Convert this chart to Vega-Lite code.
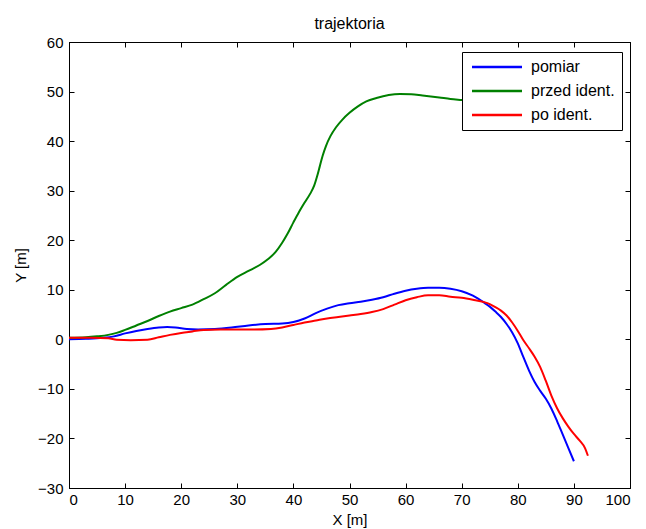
{
  "$schema": "https://vega.github.io/schema/vega-lite/v6.json",
  "width": 561,
  "height": 446,
  "autosize": {"type": "none"},
  "padding": {"left": 69, "top": 42, "right": 16, "bottom": 41},
  "background": "white",
  "title": {"text": "trajektoria", "fontSize": 16, "fontWeight": "normal", "font": "Liberation Sans", "color": "black", "offset": 3},
  "config": {
    "view": {"stroke": "black", "strokeWidth": 1},
    "font": "Liberation Sans",
    "axis": {
      "domainColor": "black", "tickColor": "black", "labelColor": "black", "titleColor": "black",
      "labelFont": "Liberation Sans", "titleFont": "Liberation Sans",
      "labelFontSize": 15, "titleFontSize": 15, "titleFontWeight": "normal",
      "grid": false, "tickSize": -5, "labelPadding": 9
    }
  },
  "datasets": {
    "d": [
      {"s": "pomiar", "i": 0, "x": 0, "y": 0},
      {"s": "pomiar", "i": 1, "x": 3, "y": 0.1},
      {"s": "pomiar", "i": 2, "x": 6, "y": 0.3},
      {"s": "pomiar", "i": 3, "x": 8, "y": 0.6},
      {"s": "pomiar", "i": 4, "x": 10, "y": 1.2},
      {"s": "pomiar", "i": 5, "x": 12, "y": 1.7},
      {"s": "pomiar", "i": 6, "x": 14, "y": 2.1},
      {"s": "pomiar", "i": 7, "x": 16, "y": 2.4},
      {"s": "pomiar", "i": 8, "x": 17.5, "y": 2.5},
      {"s": "pomiar", "i": 9, "x": 19, "y": 2.4},
      {"s": "pomiar", "i": 10, "x": 21, "y": 2.1},
      {"s": "pomiar", "i": 11, "x": 23, "y": 2.0},
      {"s": "pomiar", "i": 12, "x": 26, "y": 2.1},
      {"s": "pomiar", "i": 13, "x": 29, "y": 2.4},
      {"s": "pomiar", "i": 14, "x": 32, "y": 2.8},
      {"s": "pomiar", "i": 15, "x": 35, "y": 3.1},
      {"s": "pomiar", "i": 16, "x": 38, "y": 3.2},
      {"s": "pomiar", "i": 17, "x": 40, "y": 3.5},
      {"s": "pomiar", "i": 18, "x": 42, "y": 4.2},
      {"s": "pomiar", "i": 19, "x": 44, "y": 5.3},
      {"s": "pomiar", "i": 20, "x": 46, "y": 6.2},
      {"s": "pomiar", "i": 21, "x": 48, "y": 6.9},
      {"s": "pomiar", "i": 22, "x": 50, "y": 7.3},
      {"s": "pomiar", "i": 23, "x": 52, "y": 7.6},
      {"s": "pomiar", "i": 24, "x": 54, "y": 8.0},
      {"s": "pomiar", "i": 25, "x": 56, "y": 8.5},
      {"s": "pomiar", "i": 26, "x": 58, "y": 9.2},
      {"s": "pomiar", "i": 27, "x": 60, "y": 9.8},
      {"s": "pomiar", "i": 28, "x": 62, "y": 10.2},
      {"s": "pomiar", "i": 29, "x": 64, "y": 10.4},
      {"s": "pomiar", "i": 30, "x": 66, "y": 10.4},
      {"s": "pomiar", "i": 31, "x": 68, "y": 10.2},
      {"s": "pomiar", "i": 32, "x": 70, "y": 9.7},
      {"s": "pomiar", "i": 33, "x": 72, "y": 8.8},
      {"s": "pomiar", "i": 34, "x": 74, "y": 7.4},
      {"s": "pomiar", "i": 35, "x": 75, "y": 6.6},
      {"s": "pomiar", "i": 36, "x": 76, "y": 5.6},
      {"s": "pomiar", "i": 37, "x": 77, "y": 4.5},
      {"s": "pomiar", "i": 38, "x": 78, "y": 3.1},
      {"s": "pomiar", "i": 39, "x": 79, "y": 1.4},
      {"s": "pomiar", "i": 40, "x": 80, "y": -0.8},
      {"s": "pomiar", "i": 41, "x": 81, "y": -3.6},
      {"s": "pomiar", "i": 42, "x": 82, "y": -6.3},
      {"s": "pomiar", "i": 43, "x": 83, "y": -8.6},
      {"s": "pomiar", "i": 44, "x": 84, "y": -10.4},
      {"s": "pomiar", "i": 45, "x": 85, "y": -12.0},
      {"s": "pomiar", "i": 46, "x": 86, "y": -14.0},
      {"s": "pomiar", "i": 47, "x": 87, "y": -16.5},
      {"s": "pomiar", "i": 48, "x": 88, "y": -19.2},
      {"s": "pomiar", "i": 49, "x": 89, "y": -21.9},
      {"s": "pomiar", "i": 50, "x": 90, "y": -24.6},

      {"s": "przed ident.", "i": 0, "x": 0, "y": 0.3},
      {"s": "przed ident.", "i": 1, "x": 3, "y": 0.4},
      {"s": "przed ident.", "i": 2, "x": 5, "y": 0.6},
      {"s": "przed ident.", "i": 3, "x": 7, "y": 0.9},
      {"s": "przed ident.", "i": 4, "x": 8.5, "y": 1.3},
      {"s": "przed ident.", "i": 5, "x": 10, "y": 1.9},
      {"s": "przed ident.", "i": 6, "x": 12, "y": 2.8},
      {"s": "przed ident.", "i": 7, "x": 14, "y": 3.7},
      {"s": "przed ident.", "i": 8, "x": 16, "y": 4.7},
      {"s": "przed ident.", "i": 9, "x": 18, "y": 5.6},
      {"s": "przed ident.", "i": 10, "x": 20, "y": 6.3},
      {"s": "przed ident.", "i": 11, "x": 22, "y": 7.0},
      {"s": "przed ident.", "i": 12, "x": 24, "y": 8.1},
      {"s": "przed ident.", "i": 13, "x": 26, "y": 9.3},
      {"s": "przed ident.", "i": 14, "x": 28, "y": 11.0},
      {"s": "przed ident.", "i": 15, "x": 30, "y": 12.6},
      {"s": "przed ident.", "i": 16, "x": 32, "y": 13.8},
      {"s": "przed ident.", "i": 17, "x": 34, "y": 15.0},
      {"s": "przed ident.", "i": 18, "x": 35.5, "y": 16.2},
      {"s": "przed ident.", "i": 19, "x": 36.8, "y": 17.6},
      {"s": "przed ident.", "i": 20, "x": 38, "y": 19.5},
      {"s": "przed ident.", "i": 21, "x": 39, "y": 21.4},
      {"s": "przed ident.", "i": 22, "x": 40, "y": 23.6},
      {"s": "przed ident.", "i": 23, "x": 41, "y": 25.7},
      {"s": "przed ident.", "i": 24, "x": 42, "y": 27.6},
      {"s": "przed ident.", "i": 25, "x": 43, "y": 29.4},
      {"s": "przed ident.", "i": 26, "x": 43.7, "y": 31.0},
      {"s": "przed ident.", "i": 27, "x": 44.2, "y": 32.8},
      {"s": "przed ident.", "i": 28, "x": 44.7, "y": 34.9},
      {"s": "przed ident.", "i": 29, "x": 45.2, "y": 37.0},
      {"s": "przed ident.", "i": 30, "x": 45.8, "y": 39.0},
      {"s": "przed ident.", "i": 31, "x": 46.6, "y": 41.0},
      {"s": "przed ident.", "i": 32, "x": 47.6, "y": 42.8},
      {"s": "przed ident.", "i": 33, "x": 48.7, "y": 44.3},
      {"s": "przed ident.", "i": 34, "x": 50, "y": 45.7},
      {"s": "przed ident.", "i": 35, "x": 51.5, "y": 47.0},
      {"s": "przed ident.", "i": 36, "x": 53, "y": 48.0},
      {"s": "przed ident.", "i": 37, "x": 54.8, "y": 48.7},
      {"s": "przed ident.", "i": 38, "x": 57, "y": 49.3},
      {"s": "przed ident.", "i": 39, "x": 59, "y": 49.5},
      {"s": "przed ident.", "i": 40, "x": 61, "y": 49.45},
      {"s": "przed ident.", "i": 41, "x": 63, "y": 49.2},
      {"s": "przed ident.", "i": 42, "x": 66, "y": 48.8},
      {"s": "przed ident.", "i": 43, "x": 68, "y": 48.5},
      {"s": "przed ident.", "i": 44, "x": 70, "y": 48.3},
      {"s": "przed ident.", "i": 45, "x": 72, "y": 48.1},
      {"s": "przed ident.", "i": 46, "x": 74, "y": 47.9},

      {"s": "po ident.", "i": 0, "x": 0, "y": 0.3},
      {"s": "po ident.", "i": 1, "x": 4, "y": 0.3},
      {"s": "po ident.", "i": 2, "x": 7, "y": 0.2},
      {"s": "po ident.", "i": 3, "x": 8.5, "y": -0.1},
      {"s": "po ident.", "i": 4, "x": 11, "y": -0.2},
      {"s": "po ident.", "i": 5, "x": 14, "y": -0.1},
      {"s": "po ident.", "i": 6, "x": 16, "y": 0.4},
      {"s": "po ident.", "i": 7, "x": 18, "y": 0.9},
      {"s": "po ident.", "i": 8, "x": 20, "y": 1.3},
      {"s": "po ident.", "i": 9, "x": 22, "y": 1.6},
      {"s": "po ident.", "i": 10, "x": 24, "y": 1.9},
      {"s": "po ident.", "i": 11, "x": 27, "y": 2.0},
      {"s": "po ident.", "i": 12, "x": 30, "y": 2.0},
      {"s": "po ident.", "i": 13, "x": 33, "y": 2.0},
      {"s": "po ident.", "i": 14, "x": 36, "y": 2.1},
      {"s": "po ident.", "i": 15, "x": 38, "y": 2.4},
      {"s": "po ident.", "i": 16, "x": 40, "y": 2.9},
      {"s": "po ident.", "i": 17, "x": 42, "y": 3.4},
      {"s": "po ident.", "i": 18, "x": 44, "y": 3.8},
      {"s": "po ident.", "i": 19, "x": 46, "y": 4.2},
      {"s": "po ident.", "i": 20, "x": 48, "y": 4.5},
      {"s": "po ident.", "i": 21, "x": 50, "y": 4.8},
      {"s": "po ident.", "i": 22, "x": 52, "y": 5.1},
      {"s": "po ident.", "i": 23, "x": 54, "y": 5.5},
      {"s": "po ident.", "i": 24, "x": 56, "y": 6.1},
      {"s": "po ident.", "i": 25, "x": 58, "y": 7.0},
      {"s": "po ident.", "i": 26, "x": 60, "y": 7.9},
      {"s": "po ident.", "i": 27, "x": 62, "y": 8.5},
      {"s": "po ident.", "i": 28, "x": 64, "y": 8.9},
      {"s": "po ident.", "i": 29, "x": 66, "y": 8.9},
      {"s": "po ident.", "i": 30, "x": 68, "y": 8.6},
      {"s": "po ident.", "i": 31, "x": 70, "y": 8.4},
      {"s": "po ident.", "i": 32, "x": 72, "y": 8.0},
      {"s": "po ident.", "i": 33, "x": 74, "y": 7.5},
      {"s": "po ident.", "i": 34, "x": 75, "y": 7.1},
      {"s": "po ident.", "i": 35, "x": 76, "y": 6.5},
      {"s": "po ident.", "i": 36, "x": 77, "y": 5.8},
      {"s": "po ident.", "i": 37, "x": 78, "y": 4.8},
      {"s": "po ident.", "i": 38, "x": 79, "y": 3.4},
      {"s": "po ident.", "i": 39, "x": 80, "y": 1.7},
      {"s": "po ident.", "i": 40, "x": 81, "y": -0.2},
      {"s": "po ident.", "i": 41, "x": 82, "y": -1.8},
      {"s": "po ident.", "i": 42, "x": 83, "y": -3.5},
      {"s": "po ident.", "i": 43, "x": 84, "y": -5.6},
      {"s": "po ident.", "i": 44, "x": 85, "y": -8.4},
      {"s": "po ident.", "i": 45, "x": 86, "y": -11.4},
      {"s": "po ident.", "i": 46, "x": 87, "y": -13.9},
      {"s": "po ident.", "i": 47, "x": 88, "y": -15.9},
      {"s": "po ident.", "i": 48, "x": 89, "y": -17.6},
      {"s": "po ident.", "i": 49, "x": 90, "y": -19.1},
      {"s": "po ident.", "i": 50, "x": 91, "y": -20.4},
      {"s": "po ident.", "i": 51, "x": 92, "y": -22.0},
      {"s": "po ident.", "i": 52, "x": 92.5, "y": -23.5}
    ]
  },
  "data": {"name": "d"},
  "layer": [
    {
      "mark": {"type": "line", "strokeWidth": 2, "interpolate": "monotone"},
      "encoding": {
        "x": {"field": "x", "type": "quantitative", "scale": {"domain": [0, 100], "nice": false, "zero": false},
              "axis": {"title": "X [m]", "values": [0,10,20,30,40,50,60,70,80,90,100], "titlePadding": 5}},
        "y": {"field": "y", "type": "quantitative", "scale": {"domain": [-30, 60], "nice": false, "zero": false},
              "axis": {"title": "Y [m]", "values": [-30,-20,-10,0,10,20,30,40,50,60], "titlePadding": 9, "labelPadding": 11}},
        "color": {"field": "s", "type": "nominal",
                  "scale": {"domain": ["pomiar", "przed ident.", "po ident."], "range": ["#0000ff", "#008000", "#ff0000"]},
                  "legend": {"title": null, "orient": "none", "legendX": 393, "legendY": 10,
                             "fillColor": "white", "strokeColor": "black", "padding": 7,
                             "symbolType": "M-1,0H9", "symbolSize": 100, "symbolStrokeWidth": 2.5,
                             "labelFontSize": 16, "labelFont": "Liberation Sans", "labelColor": "black",
                             "labelOffset": 46, "rowPadding": 8, "cornerRadius": 0}},
        "order": {"field": "i", "type": "quantitative"}
      }
    },
    {
      "mark": {"type": "line", "strokeOpacity": 0},
      "encoding": {
        "x": {"field": "x", "type": "quantitative", "axis": {"orient": "top", "labels": false, "title": null, "values": [0,10,20,30,40,50,60,70,80,90,100]}},
        "y": {"field": "y", "type": "quantitative", "axis": {"orient": "right", "labels": false, "title": null, "values": [-30,-20,-10,0,10,20,30,40,50,60]}},
        "detail": {"field": "s"}
      }
    }
  ],
  "resolve": {"axis": {"x": "independent", "y": "independent"}}
}
